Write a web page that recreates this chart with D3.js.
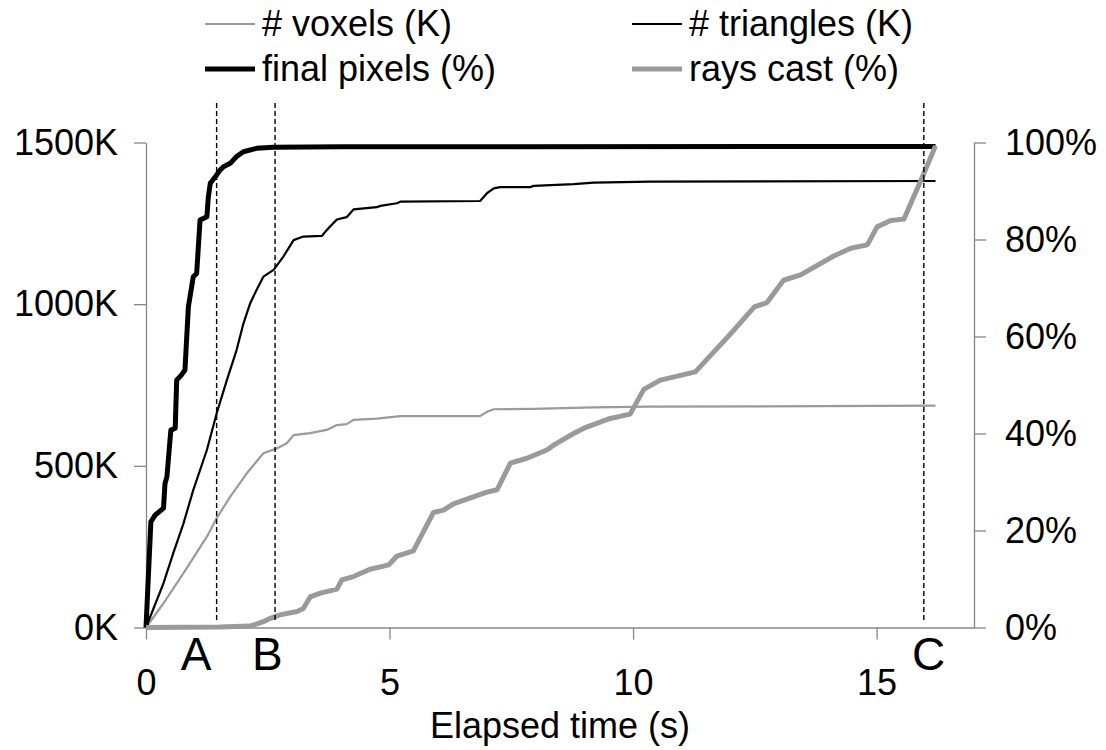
<!DOCTYPE html>
<html>
<head>
<meta charset="utf-8">
<script src="https://d3js.org/d3.v7.min.js"></script>
<style>
  body { margin: 0; background: #fff; }
  text { font-family: "Liberation Sans", Arial, sans-serif; fill: #000; }
</style>
</head>
<body>
<svg id="chart"></svg>
<script>
// elapsed time (s) and values
var voxT = [0, 0.36, 0.77, 1.25, 1.45, 1.73, 2.07, 2.41, 2.69, 2.89, 3.03, 3.37, 3.71, 3.92, 4.12, 4.26, 4.74, 5.22, 6.86, 7.0, 7.14, 7.96, 9.19, 10.36, 16.21];
var voxK = [0, 75, 168, 281, 338, 405, 477, 539, 554, 570, 595, 601, 611, 626, 629, 642, 646, 654, 654, 667, 675, 676, 681, 683, 686];

var triT = [0, 0.36, 0.56, 0.77, 0.97, 1.25, 1.45, 1.66, 1.86, 2.0, 2.14, 2.27, 2.41, 2.62, 2.82, 3.03, 3.23, 3.61, 3.71, 3.78, 3.92, 4.12, 4.26, 4.74, 4.81, 5.15, 5.22, 6.86, 7.0, 7.14, 7.27, 7.89, 7.96, 8.78, 9.19, 10.36, 16.21];
var triK = [0, 137, 230, 322, 425, 549, 662, 765, 858, 940, 1003, 1044, 1085, 1106, 1147, 1198, 1209, 1211, 1229, 1240, 1262, 1269, 1293, 1300, 1304, 1312, 1317, 1319, 1343, 1358, 1362, 1362, 1366, 1371, 1376, 1379, 1381];

var pixT = [0, 0.1, 0.19, 0.36, 0.39, 0.43, 0.51, 0.6, 0.63, 0.73, 0.8, 0.87, 0.97, 1.04, 1.11, 1.25, 1.28, 1.32, 1.42, 1.52, 1.59, 1.73, 1.86, 2.0, 2.27, 2.62, 4.0, 16.21];
var pixP = [0, 21.8, 23.2, 24.6, 29.7, 31.1, 40.7, 41.1, 51.0, 52.1, 53.1, 66.1, 72.3, 73.0, 84.0, 84.7, 88.8, 91.6, 92.9, 94.3, 95.0, 95.7, 97.1, 98.1, 98.8, 99.0, 99.1, 99.2];

var rayT = [0, 1.5, 2.14, 2.41, 2.55, 2.75, 3.10, 3.23, 3.37, 3.58, 3.92, 4.02, 4.26, 4.60, 4.81, 4.98, 5.15, 5.49, 5.90, 6.11, 6.31, 7.0, 7.21, 7.48, 7.82, 8.23, 8.37, 8.78, 8.99, 9.53, 9.94, 10.22, 10.56, 11.28, 12.07, 12.49, 12.75, 13.09, 13.44, 14.12, 14.47, 14.81, 15.01, 15.29, 15.56, 15.97, 16.21];
var rayP = [0, 0.1, 0.3, 1.2, 1.9, 2.6, 3.3, 3.9, 6.3, 7.1, 7.9, 9.8, 10.5, 12.0, 12.5, 12.9, 14.7, 15.8, 23.7, 24.2, 25.5, 27.9, 28.4, 33.9, 34.9, 36.6, 37.6, 40.0, 41.1, 43.1, 44.0, 49.1, 51.0, 52.7, 61.3, 66.1, 67.0, 71.6, 72.7, 76.6, 78.2, 78.9, 82.6, 83.9, 84.2, 93.6, 99.3];

var markT = [1.45, 2.65, 15.97];
var markLabels = ["A", "B", "C"];
var markLabelT = [1.03, 2.49, 16.07];

var xTicks = [0, 5, 10, 15];
var leftTicks = [0, 500, 1000, 1500];
var rightTicks = [0, 20, 40, 60, 80, 100];

var legendNames = ["# voxels (K)", "# triangles (K)", "final pixels (%)", "rays cast (%)"];

var width = 1106, height = 750;
var plot = { left: 146, right: 974, top: 142.5, bottom: 627.5 };

var svg = d3.select("#chart")
    .attr("width", width)
    .attr("height", height);

var x = d3.scaleLinear().domain([0, 17]).range([plot.left, plot.right]);
var yL = d3.scaleLinear().domain([0, 1500]).range([plot.bottom, plot.top]);
var yR = d3.scaleLinear().domain([0, 100]).range([plot.bottom, plot.top]);

var axisColor = "#868686";

function styleAxis(g) {
    g.selectAll("path, line").attr("stroke", axisColor).attr("stroke-width", 1.3);
    g.selectAll("text")
        .style("font-size", "36px")
        .style("font-family", "'Liberation Sans', Arial, sans-serif")
        .attr("fill", "#000");
}

svg.append("g")
    .attr("transform", "translate(0," + plot.bottom + ")")
    .call(d3.axisBottom(x).tickValues(xTicks).tickSize(12).tickSizeOuter(0).tickPadding(30))
    .call(styleAxis);

svg.append("g")
    .attr("transform", "translate(" + plot.left + ",0)")
    .call(d3.axisLeft(yL).tickValues(leftTicks).tickSize(12).tickSizeOuter(0).tickPadding(16)
        .tickFormat(function(d) { return d + "K"; }))
    .call(styleAxis);

svg.append("g")
    .attr("transform", "translate(" + plot.right + ",0)")
    .call(d3.axisRight(yR).tickValues(rightTicks).tickSize(12).tickSizeOuter(0).tickPadding(19)
        .tickFormat(function(d) { return d + "%"; }))
    .call(styleAxis);

svg.append("text")
    .attr("x", (plot.left + plot.right) / 2)
    .attr("y", 738)
    .attr("text-anchor", "middle")
    .style("font-size", "36px")
    .text("Elapsed time (s)");

function zip(ts, vs) {
    return ts.map(function(t, i) { return [t, vs[i]]; });
}

var lineL = d3.line().x(function(d) { return x(d[0]); }).y(function(d) { return yL(d[1]); });
var lineR = d3.line().x(function(d) { return x(d[0]); }).y(function(d) { return yR(d[1]); });

var series = [
    { data: zip(voxT, voxK), line: lineL, color: "#9a9a9a", w: 2.2 },
    { data: zip(triT, triK), line: lineL, color: "#000", w: 2.2 },
    { data: zip(pixT, pixP), line: lineR, color: "#000", w: 5 },
    { data: zip(rayT, rayP), line: lineR, color: "#9a9a9a", w: 5 }
];

svg.append("g")
    .selectAll("path")
    .data(series)
    .enter().append("path")
    .attr("d", function(d) { return d.line(d.data); })
    .attr("fill", "none")
    .attr("stroke", function(d) { return d.color; })
    .attr("stroke-width", function(d) { return d.w; })
    .attr("stroke-linejoin", "round");

// event markers
svg.append("g")
    .selectAll("line")
    .data(markT)
    .enter().append("line")
    .attr("x1", function(d) { return x(d); })
    .attr("x2", function(d) { return x(d); })
    .attr("y1", 103)
    .attr("y2", 623)
    .attr("stroke", "#000")
    .attr("stroke-width", 1.4)
    .attr("stroke-dasharray", "5,3");

svg.append("g")
    .selectAll("text")
    .data(markLabels)
    .enter().append("text")
    .attr("x", function(d, i) { return x(markLabelT[i]); })
    .attr("y", 670)
    .attr("text-anchor", "middle")
    .style("font-size", "46px")
    .text(function(d) { return d; });

// legend
var legend = svg.append("g")
    .selectAll("g")
    .data(series)
    .enter().append("g")
    .attr("transform", function(d, i) {
        return "translate(" + (i % 2 ? 632 : 205) + "," + (i < 2 ? 36 : 81) + ")"; });

legend.append("line")
    .attr("x1", 0).attr("x2", 50)
    .attr("y1", -12).attr("y2", -12)
    .attr("stroke", function(d) { return d.color; })
    .attr("stroke-width", function(d) { return d.w; });

legend.append("text")
    .attr("x", 57)
    .style("font-size", "36px")
    .text(function(d, i) { return legendNames[i]; });
</script>
</body>
</html>
